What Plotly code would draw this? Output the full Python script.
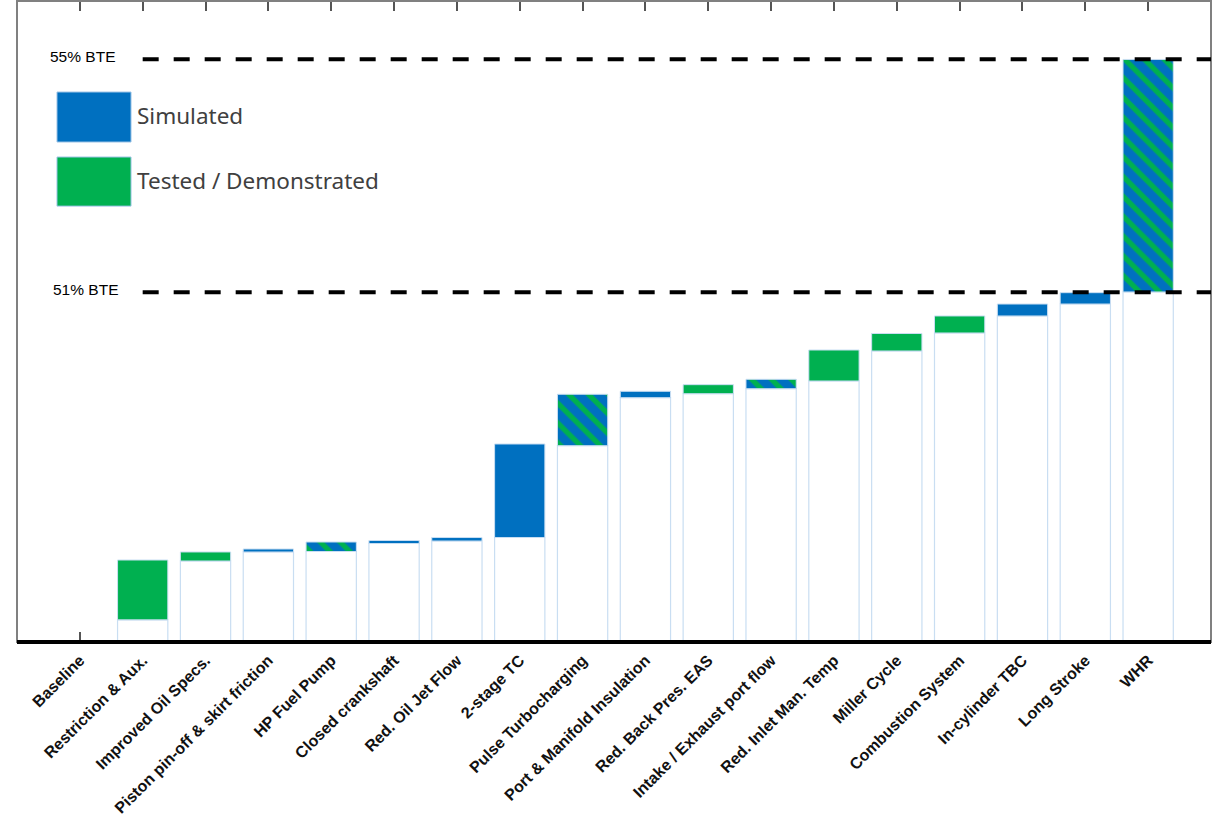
import plotly.graph_objects as go

categories = ["Baseline", "Restriction & Aux.", "Improved Oil Specs.", "Piston pin-off & skirt friction",
              "HP Fuel Pump", "Closed crankshaft", "Red. Oil Jet Flow", "2-stage TC", "Pulse Turbocharging",
              "Port & Manifold Insulation", "Red. Back Pres. EAS", "Intake / Exhaust port flow",
              "Red. Inlet Man. Temp", "Miller Cycle", "Combustion System", "In-cylinder TBC",
              "Long Stroke", "WHR"]
bar_start = [45.0, 45.38, 46.39, 46.545, 46.553, 46.69, 46.733, 46.793, 48.369, 49.193, 49.261, 49.347,
             49.479, 49.994, 50.303, 50.595, 50.80, 51.007]
bar_end = [45.0, 46.407, 46.545, 46.596, 46.716, 46.742, 46.793, 48.398, 49.251, 49.302, 49.416, 49.508,
           50.011, 50.294, 50.595, 50.80, 50.995, 54.997]
bar_type = ["none", "tested", "tested", "sim", "mixed", "sim", "sim", "sim", "mixed", "sim", "tested",
            "mixed", "tested", "tested", "tested", "sim", "sim", "mixed"]

BTE_LEVELS = [55, 51]
BTE_LABELS = ["55% BTE", "51% BTE"]
LEGEND_LABELS = ["Simulated", "Tested / Demonstrated"]

BLUE = "#0070C0"
GREEN = "#00B050"
OUTLINE = "#C9DEF2"

fig = go.Figure()

# base bars (white with light outline)
fig.add_trace(go.Bar(x=categories, y=bar_start, marker=dict(color="white", line=dict(color=OUTLINE, width=1.2)),
                     hoverinfo="skip"))


def subset(kind):
    xs, bs, ys = [], [], []
    for c, s, e, t in zip(categories, bar_start, bar_end, bar_type):
        if t == kind:
            xs.append(c)
            bs.append(s)
            ys.append(e - s)
    return xs, bs, ys


xs, bs, ys = subset("sim")
fig.add_trace(go.Bar(x=xs, y=ys, base=bs, marker=dict(color=BLUE, line=dict(color=OUTLINE, width=1))))
xs, bs, ys = subset("tested")
fig.add_trace(go.Bar(x=xs, y=ys, base=bs, marker=dict(color=GREEN, line=dict(color=OUTLINE, width=1))))
xs, bs, ys = subset("mixed")
fig.add_trace(go.Bar(x=xs, y=ys, base=bs,
                     marker=dict(color=BLUE, line=dict(color=OUTLINE, width=1),
                                 pattern=dict(shape="\\", fgcolor=GREEN, bgcolor=BLUE, size=14,
                                              solidity=0.38, fillmode="replace"))))

# frame
fig.add_shape(type="rect", xref="paper", yref="paper", x0=0, x1=1, y0=0, y1=1,
              line=dict(color="#808080", width=2), layer="above")
fig.add_shape(type="line", xref="paper", yref="paper", x0=0, x1=1, y0=0, y1=0,
              line=dict(color="black", width=4), layer="above")

# BTE dashed lines and labels
for lvl, lab, xp in zip(BTE_LEVELS, BTE_LABELS, [0.0262, 0.0287]):
    fig.add_shape(type="line", xref="x", yref="y", x0=1, x1=18, y0=lvl, y1=lvl,
                  line=dict(color="black", width=4, dash="16px,15px"), layer="above")
    fig.add_annotation(x=xp, xref="paper", y=lvl, yref="y", text=lab, showarrow=False,
                       xanchor="left", yanchor="middle", yshift=3,
                       font=dict(family="Arial, Liberation Sans", size=15.5, color="black"))

# legend
for (y0, y1, col, lab, ty) in [(0.780, 0.858, BLUE, LEGEND_LABELS[0], 0.822),
                               (0.680, 0.7566, GREEN, LEGEND_LABELS[1], 0.7207)]:
    fig.add_shape(type="rect", xref="paper", yref="paper", x0=0.0335, x1=0.0955, y0=y0, y1=y1,
                  fillcolor=col, line=dict(color="#9DC3E6", width=1))
    fig.add_annotation(x=0.0988, xref="paper", y=ty, yref="paper", text=lab, showarrow=False,
                       xanchor="left", yanchor="middle",
                       font=dict(family="Noto Sans", size=22.5, color="#404040"))

fig.update_layout(
    width=1212, height=820,
    margin=dict(l=17, r=1, t=1, b=178),
    plot_bgcolor="white", paper_bgcolor="white",
    showlegend=False, barmode="overlay", bargap=0.2,
    xaxis=dict(type="category", range=[-1, 18], showgrid=False, showline=False, zeroline=False,
               ticks="inside", ticklen=10, tickwidth=1.5, tickcolor="#555555", mirror="ticks",
               tickangle=-45, automargin=False, layer="below traces", ticklabelstandoff=5,
               tickfont=dict(family="Arial, Liberation Sans", size=16, color="#111111", weight="bold")),
    yaxis=dict(range=[45, 56], showgrid=False, showline=False, zeroline=False,
               showticklabels=False, ticks=""),
)

fig.write_html("out.html")
